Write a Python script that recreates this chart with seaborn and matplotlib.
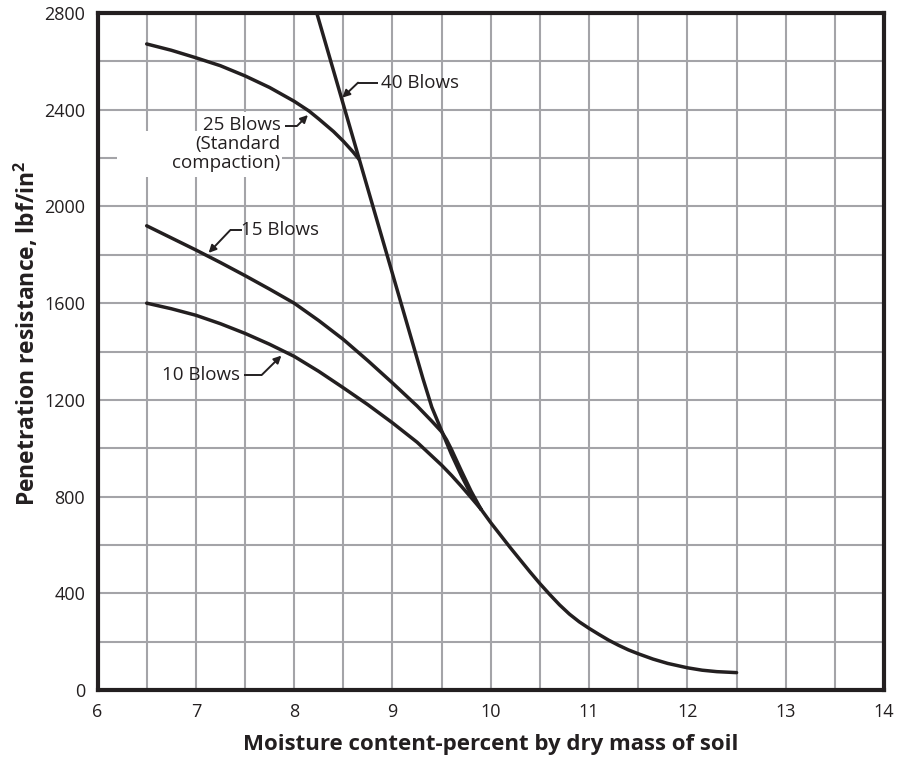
import matplotlib
matplotlib.use("Agg")
import matplotlib.pyplot as plt
from matplotlib.patches import Rectangle
import seaborn as sns
import numpy as np

# Penetration resistance curves (lbf/in^2) against moisture content (%)
blows_10_x = [6.5, 6.75, 7.0, 7.25, 7.5, 7.75, 8.0, 8.25, 8.5, 8.75, 9.0,
              9.25, 9.5, 9.6, 9.7, 9.8, 9.9]
blows_10_y = [1600, 1577, 1550, 1515, 1475, 1430, 1380, 1318, 1250, 1180, 1105,
              1025, 930, 888, 843, 796, 748]

blows_15_x = [6.5, 6.75, 7.0, 7.25, 7.5, 7.75, 8.0, 8.25, 8.5, 8.75, 9.0,
              9.25, 9.4, 9.5, 9.55, 9.6, 9.7, 9.8, 9.9]
blows_15_y = [1920, 1870, 1820, 1768, 1714, 1658, 1600, 1528, 1450, 1362, 1270,
              1175, 1112, 1068, 1035, 995, 907, 822, 748]

blows_25_x = [6.5, 6.75, 7.0, 7.25, 7.5, 7.75, 8.0, 8.15, 8.25, 8.4, 8.5, 8.6, 8.66]
blows_25_y = [2672, 2646, 2615, 2582, 2540, 2492, 2435, 2395, 2362, 2310, 2270,
              2225, 2195]

blows_40_x = [8.23, 8.5, 8.68, 8.85, 9.0, 9.15, 9.31, 9.4, 9.5, 9.6, 9.7, 9.8, 9.9]
blows_40_y = [2800, 2422, 2170, 1932, 1722, 1512, 1288, 1170, 1072, 975, 888, 808, 748]

# branch shared by the 10, 15 and 40 blow curves at high moisture
common_x = [9.9, 10.0, 10.1, 10.2, 10.3, 10.4, 10.5, 10.6, 10.7, 10.8, 10.9,
            11.0, 11.1, 11.2, 11.3, 11.4, 11.5, 11.65, 11.8, 12.0, 12.15,
            12.3, 12.5]
common_y = [748, 692, 640, 588, 538, 488, 440, 395, 352, 314, 282,
            255, 230, 206, 185, 166, 150, 128, 110, 92, 82, 76, 72]

x_ticks = [6, 7, 8, 9, 10, 11, 12, 13, 14]
y_ticks = [0, 400, 800, 1200, 1600, 2000, 2400, 2800]

INK = "#231f20"
GRID = "#a4a4a8"

sns.set_style("white")
plt.rcParams["font.family"] = ["Open Sans", "DejaVu Sans"]
plt.rcParams["mathtext.fontset"] = "custom"
plt.rcParams["mathtext.bf"] = "Open Sans:bold"

fig = plt.figure(figsize=(9.03, 7.65), dpi=100)
ax = fig.add_axes([0.108, 0.098, 0.871, 0.885])

curves = [
    (blows_10_x, blows_10_y),
    (blows_15_x, blows_15_y),
    (blows_25_x, blows_25_y),
    (blows_40_x, blows_40_y),
    (common_x, common_y),
]
for cx, cy in curves:
    sns.lineplot(x=cx, y=cy, ax=ax, color=INK, linewidth=2.5,
                 sort=False, estimator=None, zorder=3)

ax.set_xlim(6, 14)
ax.set_ylim(0, 2800)
ax.set_xticks(x_ticks)
ax.set_xticklabels([str(v) for v in x_ticks])
ax.set_yticks(y_ticks)
ax.set_yticklabels([str(v) for v in y_ticks])
ax.set_xticks(np.arange(6.5, 14, 1.0), minor=True)
ax.set_yticks(np.arange(200, 2800, 400), minor=True)
ax.set_axisbelow(True)
ax.grid(True, which="both", color=GRID, linewidth=1.5)
ax.tick_params(axis="both", which="both", length=0, labelsize=13, colors=INK)
ax.tick_params(axis="x", pad=9)
ax.tick_params(axis="y", pad=9)
for s in ax.spines.values():
    s.set_visible(True)
    s.set_linewidth(3)
    s.set_color(INK)
    s.set_zorder(5)

ax.set_xlabel("Moisture content-percent by dry mass of soil", fontsize=16,
              fontweight="bold", color=INK, labelpad=10)
ax.set_ylabel("Penetration resistance, lbf/in$^\\mathbf{2}$", fontsize=16.5,
              fontweight="bold", color=INK)
ax.yaxis.set_label_coords(-0.072, 0.527)

# white backing behind the standard-compaction label
ax.add_patch(Rectangle((6.2, 2120), 1.68, 190, facecolor="white",
                       edgecolor="none", zorder=1))
ax.add_patch(Rectangle((7.04, 2310), 0.84, 80, facecolor="white",
                       edgecolor="none", zorder=1))

arrow_kw = dict(arrowstyle="-|>", color=INK, lw=1.4, mutation_scale=11,
                shrinkA=0, shrinkB=0)


def callout(label, text_xy, dash_start, bend, tip, ha):
    ax.text(text_xy[0], text_xy[1], label, ha=ha, va="center", fontsize=13.5,
            color=INK, zorder=4)
    ax.plot([dash_start, bend[0]], [bend[1], bend[1]], color=INK, lw=1.4,
            zorder=4, solid_capstyle="butt")
    ax.annotate("", xy=tip, xytext=bend, arrowprops=arrow_kw, zorder=4)


callout("40 Blows", (8.88, 2512), 8.85, (8.65, 2512), (8.49, 2450), "left")
callout("15 Blows", (7.46, 1902), 7.47, (7.35, 1902), (7.13, 1808), "left")
callout("10 Blows", (7.45, 1303), 7.49, (7.67, 1303), (7.87, 1383), "right")

ax.text(7.86, 2372, "25 Blows\n(Standard\ncompaction)", ha="right", va="top",
        fontsize=13.5, color=INK, zorder=4, linespacing=1.05,
        multialignment="right")
ax.plot([7.91, 8.03], [2333, 2333], color=INK, lw=1.4, zorder=4,
        solid_capstyle="butt")
ax.annotate("", xy=(8.14, 2378), xytext=(8.03, 2333), arrowprops=arrow_kw,
            zorder=4)

fig.savefig("out.png", dpi=100)
